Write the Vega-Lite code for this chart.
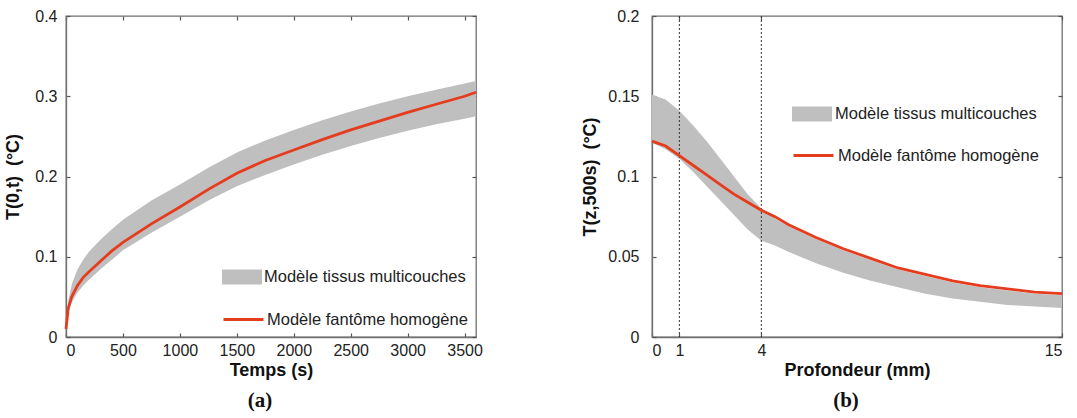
{
  "$schema": "https://vega.github.io/schema/vega-lite/v6.json",
  "background": "white",
  "padding": {"left": 4, "top": 7, "right": 5, "bottom": 3},
  "bounds": "flush",
  "spacing": 176,
  "datasets": {
    "left": [
      {"t": 0, "lo": 0.008, "hi": 0.014, "red": 0.010},
      {"t": 20, "lo": 0.030, "hi": 0.045, "red": 0.036},
      {"t": 50, "lo": 0.043, "hi": 0.065, "red": 0.050},
      {"t": 100, "lo": 0.055, "hi": 0.084, "red": 0.064},
      {"t": 150, "lo": 0.064, "hi": 0.096, "red": 0.074},
      {"t": 200, "lo": 0.071, "hi": 0.106, "red": 0.081},
      {"t": 300, "lo": 0.084, "hi": 0.121, "red": 0.094},
      {"t": 400, "lo": 0.096, "hi": 0.134, "red": 0.107},
      {"t": 500, "lo": 0.108, "hi": 0.146, "red": 0.118},
      {"t": 750, "lo": 0.130, "hi": 0.170, "red": 0.141},
      {"t": 1000, "lo": 0.150, "hi": 0.190, "red": 0.162},
      {"t": 1250, "lo": 0.170, "hi": 0.211, "red": 0.184},
      {"t": 1500, "lo": 0.188, "hi": 0.230, "red": 0.204},
      {"t": 1750, "lo": 0.202, "hi": 0.245, "red": 0.220},
      {"t": 2000, "lo": 0.215, "hi": 0.258, "red": 0.233},
      {"t": 2250, "lo": 0.227, "hi": 0.270, "red": 0.246},
      {"t": 2500, "lo": 0.238, "hi": 0.281, "red": 0.258},
      {"t": 2750, "lo": 0.248, "hi": 0.291, "red": 0.269},
      {"t": 3000, "lo": 0.257, "hi": 0.300, "red": 0.280},
      {"t": 3250, "lo": 0.265, "hi": 0.308, "red": 0.290},
      {"t": 3500, "lo": 0.272, "hi": 0.316, "red": 0.300},
      {"t": 3600, "lo": 0.275, "hi": 0.319, "red": 0.305}
    ],
    "right": [
      {"z": 0, "lo": 0.121, "hi": 0.151, "red": 0.122},
      {"z": 0.5, "lo": 0.117, "hi": 0.148, "red": 0.119},
      {"z": 1, "lo": 0.111, "hi": 0.141, "red": 0.113},
      {"z": 1.5, "lo": 0.103, "hi": 0.132, "red": 0.107},
      {"z": 2, "lo": 0.094, "hi": 0.122, "red": 0.101},
      {"z": 2.5, "lo": 0.085, "hi": 0.111, "red": 0.095},
      {"z": 3, "lo": 0.076, "hi": 0.100, "red": 0.089},
      {"z": 3.5, "lo": 0.067, "hi": 0.089, "red": 0.084},
      {"z": 4, "lo": 0.060, "hi": 0.080, "red": 0.079},
      {"z": 4.5, "lo": 0.057, "hi": 0.074, "red": 0.075},
      {"z": 5, "lo": 0.053, "hi": 0.069, "red": 0.070},
      {"z": 6, "lo": 0.046, "hi": 0.061, "red": 0.062},
      {"z": 7, "lo": 0.040, "hi": 0.054, "red": 0.055},
      {"z": 8, "lo": 0.035, "hi": 0.048, "red": 0.049},
      {"z": 9, "lo": 0.031, "hi": 0.042, "red": 0.043},
      {"z": 10, "lo": 0.027, "hi": 0.038, "red": 0.039},
      {"z": 11, "lo": 0.024, "hi": 0.034, "red": 0.035},
      {"z": 12, "lo": 0.022, "hi": 0.031, "red": 0.032},
      {"z": 13, "lo": 0.020, "hi": 0.029, "red": 0.030},
      {"z": 14, "lo": 0.019, "hi": 0.027, "red": 0.028},
      {"z": 15, "lo": 0.018, "hi": 0.026, "red": 0.027}
    ],
    "depths": [{"z": 1}, {"z": 4}]
  },
  "hconcat": [
    {
      "width": 410,
      "height": 321,
      "title": {"text": "(a)", "orient": "bottom", "font": "Liberation Serif", "fontSize": 21, "fontWeight": "bold", "color": "#111", "offset": 11, "dx": -11},
      "layer": [
        {
          "data": {"name": "left"},
          "mark": {"type": "area"},
          "encoding": {
            "x": {"field": "t", "type": "quantitative", "scale": {"domain": [0, 3600], "nice": false, "zero": false},
                  "axis": {"orient": "bottom", "title": "Temps (s)", "values": [0, 500, 1000, 1500, 2000, 2500, 3000, 3500], "format": "d", "labelPadding": 9, "titlePadding": 3}},
            "y": {"field": "lo", "type": "quantitative", "scale": {"domain": [0, 0.4], "nice": false},
                  "axis": {"orient": "left", "title": "T(0,t)\u00a0\u00a0(°C)", "values": [0, 0.1, 0.2, 0.3, 0.4], "format": "~g", "labelPadding": 13, "titlePadding": 12}},
            "y2": {"field": "hi"},
            "fill": {"datum": "Modèle tissus multicouches", "type": "nominal", "scale": {"range": ["#bfbfbf"]},
                     "legend": {"title": null, "orient": "none", "legendX": 156, "legendY": 241, "padding": 0, "symbolType": "M-1,-0.38H1V0.38H-1Z", "symbolSize": 1600, "symbolStrokeWidth": 0, "symbolOpacity": 1, "labelFontSize": 16.5, "labelOffset": 2, "labelLimit": 0, "labelColor": "#222"}}
          }
        },
        {
          "data": {"name": "left"},
          "mark": {"type": "line", "strokeWidth": 2.8},
          "encoding": {
            "x": {"field": "t", "type": "quantitative", "axis": null},
            "y": {"field": "red", "type": "quantitative", "axis": null},
            "stroke": {"datum": "Modèle fantôme homogène", "type": "nominal", "scale": {"range": ["#e53c1e"]},
                       "legend": {"title": null, "orient": "none", "legendX": 156, "legendY": 282, "padding": 0, "symbolType": "stroke", "symbolSize": 1600, "symbolStrokeWidth": 2.8, "labelFontSize": 16.5, "labelOffset": 2, "labelLimit": 0, "labelColor": "#222"}}
          }
        },
        {
          "data": {"name": "left"},
          "mark": {"type": "line", "opacity": 0},
          "encoding": {
            "x": {"field": "t", "type": "quantitative", "axis": {"orient": "top", "title": null, "labels": false, "domain": false, "values": [0, 500, 1000, 1500, 2000, 2500, 3000, 3500]}},
            "y": {"field": "red", "type": "quantitative", "axis": {"orient": "right", "title": null, "labels": false, "domain": false, "values": [0, 0.1, 0.2, 0.3, 0.4]}}
          }
        }
      ],
      "resolve": {"axis": {"x": "independent", "y": "independent"}, "legend": {"fill": "independent", "stroke": "independent"}}
    },
    {
      "width": 410,
      "height": 321,
      "title": {"text": "(b)", "orient": "bottom", "font": "Liberation Serif", "fontSize": 21, "fontWeight": "bold", "color": "#111", "offset": 11, "dx": -11},
      "layer": [
        {
          "data": {"name": "right"},
          "mark": {"type": "area"},
          "encoding": {
            "x": {"field": "z", "type": "quantitative", "scale": {"domain": [0, 15], "nice": false, "zero": false},
                  "axis": {"orient": "bottom", "title": "Profondeur (mm)", "values": [0, 1, 4, 15], "format": "d", "labelPadding": 9, "titlePadding": 3}},
            "y": {"field": "lo", "type": "quantitative", "scale": {"domain": [0, 0.2], "nice": false},
                  "axis": {"orient": "left", "title": "T(z,500s)\u00a0\u00a0(°C)", "values": [0, 0.05, 0.1, 0.15, 0.2], "format": "~g", "labelPadding": 17, "titlePadding": 8}},
            "y2": {"field": "hi"},
            "fill": {"datum": "Modèle tissus multicouches", "type": "nominal", "scale": {"range": ["#bfbfbf"]},
                     "legend": {"title": null, "orient": "none", "legendX": 140, "legendY": 78, "padding": 0, "symbolType": "M-1,-0.38H1V0.38H-1Z", "symbolSize": 1600, "symbolStrokeWidth": 0, "symbolOpacity": 1, "labelFontSize": 16.5, "labelOffset": 3, "labelLimit": 0, "labelColor": "#222"}}
          }
        },
        {
          "data": {"name": "depths"},
          "mark": {"type": "rule", "color": "#333", "strokeWidth": 1, "strokeDash": [2, 2]},
          "encoding": {
            "x": {"field": "z", "type": "quantitative", "axis": null}
          }
        },
        {
          "data": {"name": "right"},
          "mark": {"type": "line", "strokeWidth": 2.8},
          "encoding": {
            "x": {"field": "z", "type": "quantitative", "axis": null},
            "y": {"field": "red", "type": "quantitative", "axis": null},
            "stroke": {"datum": "Modèle fantôme homogène", "type": "nominal", "scale": {"range": ["#e53c1e"]},
                       "legend": {"title": null, "orient": "none", "legendX": 140, "legendY": 118, "padding": 0, "symbolType": "stroke", "symbolSize": 1600, "symbolStrokeWidth": 2.8, "labelFontSize": 16.5, "labelOffset": 3, "labelLimit": 0, "labelColor": "#222"}}
          }
        },
        {
          "data": {"name": "right"},
          "mark": {"type": "line", "opacity": 0},
          "encoding": {
            "x": {"field": "z", "type": "quantitative", "axis": {"orient": "top", "title": null, "labels": false, "domain": false, "values": [0, 1, 4, 15]}},
            "y": {"field": "red", "type": "quantitative", "axis": {"orient": "right", "title": null, "labels": false, "domain": false, "values": [0, 0.05, 0.1, 0.15, 0.2]}}
          }
        }
      ],
      "resolve": {"axis": {"x": "independent", "y": "independent"}, "legend": {"fill": "independent", "stroke": "independent"}}
    }
  ],
  "config": {
    "font": "Liberation Sans",
    "view": {"stroke": "#707070", "strokeWidth": 1.3},
    "axis": {"domainColor": "#707070", "domainWidth": 1.3, "tickColor": "#555", "tickWidth": 1.2, "tickSize": -4, "labelColor": "#222", "titleColor": "#111", "labelFontSize": 16, "titleFontSize": 18, "titleFontWeight": "bold", "grid": false}
  }
}
